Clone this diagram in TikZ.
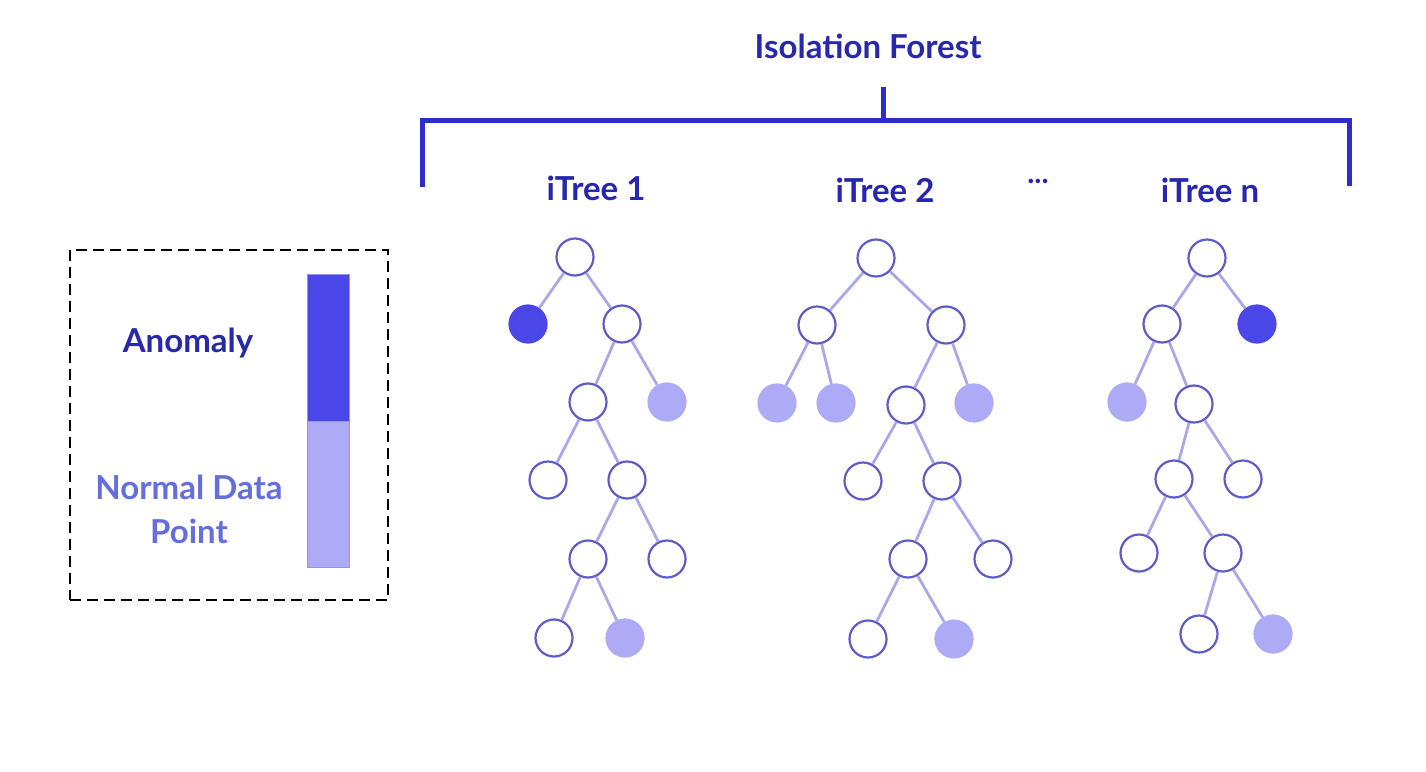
\documentclass[tikz,border=0pt]{standalone}
\usepackage{fontspec}
\setmainfont{Lato}
\definecolor{nodeline}{RGB}{95,92,200}
\definecolor{edgecol}{RGB}{170,168,232}
\definecolor{anomfill}{RGB}{74,70,232}
\definecolor{normfill}{RGB}{173,171,245}
\definecolor{brack}{RGB}{45,45,205}
\definecolor{titlecol}{RGB}{40,40,170}
\definecolor{normtext}{RGB}{100,110,225}
\begin{document}
\begin{tikzpicture}[x=1pt,y=-1pt,
  nd/.style={circle,draw=nodeline,line width=2.2pt,fill=white,minimum size=37pt,inner sep=0pt},
  anom/.style={nd,fill=anomfill,draw=anomfill},
  norm/.style={nd,fill=normfill,draw=normfill},
  edge/.style={draw=edgecol,line width=2.8pt},
  brk/.style={draw=brack,line width=5pt},
  lbl/.style={font=\bfseries\fontsize{33}{40}\selectfont,text=brack!85!black,inner sep=0pt}]
\useasboundingbox[fill=white] (0,0) rectangle (1426,771);

% title and bracket
\node[font=\bfseries\fontsize{33}{40}\selectfont,text=titlecol,inner sep=0pt] (title) at (868,46) {Isolation Forest};
\coordinate (stemtop) at (883,87);
\coordinate (stembot) at (883,120);
\coordinate (bl) at (422,187);
\coordinate (tl) at (422,120);
\coordinate (tr) at (1349,120);
\coordinate (br) at (1349,186);
\draw[brk] (stemtop) -- (stembot);
\draw[brk,line join=miter] (bl) -- (tl) -- (tr) -- (br);

\node[lbl] (t1) at (596,188) {iTree 1};
\node[lbl] (t2) at (885,190) {iTree 2};
\node[lbl] (dots) at (1038,181) {\fontsize{30}{36}\selectfont ...};
\node[lbl] (tn) at (1210,190) {iTree n};

% legend
\node[draw=black,dash pattern=on 11pt off 6pt,line width=2pt,minimum width=318pt,minimum height=350pt,inner sep=0pt] (legend) at (229,425) {};
\node[draw=normfill!70!nodeline,line width=1pt,fill=anomfill,minimum width=42pt,minimum height=147pt,inner sep=0pt] (barA) at (328,348) {};
\node[draw=normfill!70!nodeline,line width=1pt,fill=normfill,minimum width=42pt,minimum height=146pt,inner sep=0pt] (barN) at (328,494) {};
\node[font=\bfseries\fontsize{33}{40}\selectfont,text=titlecol,inner sep=0pt] (anomtxt) at (188,343) {Anomaly};
\node[font=\bfseries\fontsize{33}{44}\selectfont,text=normtext,inner sep=0pt,align=center] (normtxt) at (189,509) {Normal Data\\Point};

% tree 1
\node[nd] (a0) at (575,257) {};
\node[anom] (a1) at (528,324) {};
\node[nd] (a2) at (622,324) {};
\node[nd] (a3) at (588,402) {};
\node[norm] (a4) at (667,402) {};
\node[nd] (a5) at (548,480) {};
\node[nd] (a6) at (627,480) {};
\node[nd] (a7) at (588,559) {};
\node[nd] (a8) at (667,559) {};
\node[nd] (a9) at (554,638) {};
\node[norm] (a10) at (625,638) {};
\draw[edge] (a0) -- (a1); \draw[edge] (a0) -- (a2);
\draw[edge] (a2) -- (a3); \draw[edge] (a2) -- (a4);
\draw[edge] (a3) -- (a5); \draw[edge] (a3) -- (a6);
\draw[edge] (a6) -- (a7); \draw[edge] (a6) -- (a8);
\draw[edge] (a7) -- (a9); \draw[edge] (a7) -- (a10);

% tree 2
\node[nd] (b0) at (876,258) {};
\node[nd] (b1) at (817,325) {};
\node[nd] (b2) at (946,325) {};
\node[norm] (b3) at (777,403) {};
\node[norm] (b4) at (836,403) {};
\node[nd] (b5) at (906,405) {};
\node[norm] (b6) at (974,403) {};
\node[nd] (b7) at (863,481) {};
\node[nd] (b8) at (942,481) {};
\node[nd] (b9) at (908,559) {};
\node[nd] (b10) at (993,559) {};
\node[nd] (b11) at (868,639) {};
\node[norm] (b12) at (954,639) {};
\draw[edge] (b0) -- (b1); \draw[edge] (b0) -- (b2);
\draw[edge] (b1) -- (b3); \draw[edge] (b1) -- (b4);
\draw[edge] (b2) -- (b5); \draw[edge] (b2) -- (b6);
\draw[edge] (b5) -- (b7); \draw[edge] (b5) -- (b8);
\draw[edge] (b8) -- (b9); \draw[edge] (b8) -- (b10);
\draw[edge] (b9) -- (b11); \draw[edge] (b9) -- (b12);

% tree n
\node[nd] (c0) at (1207,258) {};
\node[nd] (c1) at (1162,324) {};
\node[anom] (c2) at (1257,324) {};
\node[norm] (c3) at (1127,402) {};
\node[nd] (c4) at (1194,404) {};
\node[nd] (c5) at (1174,479) {};
\node[nd] (c6) at (1243,479) {};
\node[nd] (c7) at (1139,553) {};
\node[nd] (c8) at (1223,553) {};
\node[nd] (c9) at (1199,634) {};
\node[norm] (c10) at (1273,634) {};
\draw[edge] (c0) -- (c1); \draw[edge] (c0) -- (c2);
\draw[edge] (c1) -- (c3); \draw[edge] (c1) -- (c4);
\draw[edge] (c4) -- (c5); \draw[edge] (c4) -- (c6);
\draw[edge] (c5) -- (c7); \draw[edge] (c5) -- (c8);
\draw[edge] (c8) -- (c9); \draw[edge] (c8) -- (c10);
\end{tikzpicture}
\end{document}
